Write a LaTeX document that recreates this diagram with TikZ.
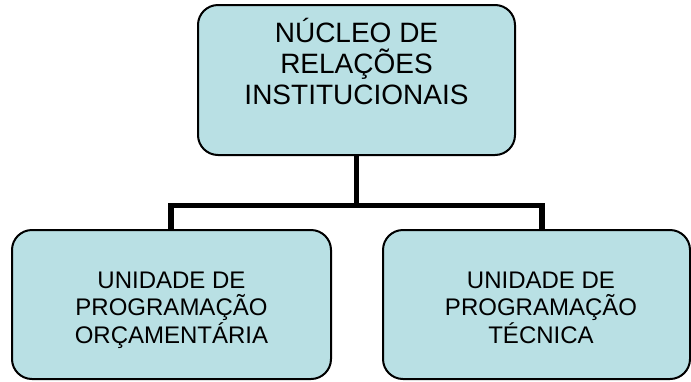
\documentclass[tikz,border=0pt]{standalone}
\usepackage{fontspec}
\setmainfont{Liberation Sans}
\usetikzlibrary{backgrounds}
\definecolor{boxfill}{HTML}{B9E0E4}
\tikzset{
  orgbox/.style={draw=black, line width=2pt, fill=boxfill, rounded corners=20pt, inner sep=0pt},
  conn/.style={draw=black, line width=5.5pt, line join=miter},
  toptext/.style={align=center, inner sep=0pt, font=\fontsize{28}{31}\selectfont},
  subtext/.style={align=center, inner sep=0pt, font=\fontsize{24}{27.5}\selectfont}
}
\begin{document}
\begin{tikzpicture}[x=1pt,y=-1pt]
\useasboundingbox (0,0) rectangle (691,381);
\coordinate (jl) at (171,205.5);
\coordinate (jr) at (542,205.5);
\node[orgbox, minimum width=317pt, minimum height=150pt] (top) at (356.5,80) {};
\node[orgbox, minimum width=319pt, minimum height=149pt] (left) at (171.5,304.5) {};
\node[orgbox, minimum width=307pt, minimum height=149pt] (right) at (536.5,304.5) {};
\begin{scope}[on background layer]
\draw[conn] (top.south) -- (top.south |- jl);
\draw[conn] (left.north -| jl) -- (jl) -- (jr) -- (right.north -| jr);
\end{scope}
\node[toptext, anchor=base] (toplabel) at (356.5,104) {NÚCLEO DE\\RELAÇÕES\\INSTITUCIONAIS};
\node[subtext, anchor=base] (leftlabel) at (171.5,343) {UNIDADE DE\\PROGRAMAÇÃO\\ORÇAMENTÁRIA};
\node[subtext, anchor=base] (rightlabel) at (541,343) {UNIDADE DE\\PROGRAMAÇÃO\\TÉCNICA};
\end{tikzpicture}
\end{document}
